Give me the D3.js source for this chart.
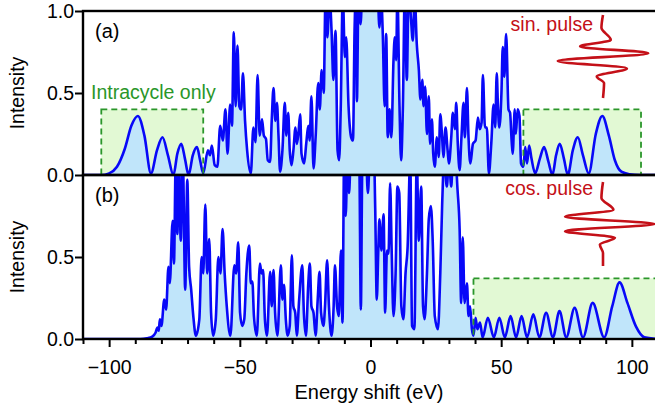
<!DOCTYPE html>
<html>
<head>
<meta charset="utf-8">
<title>Intensity vs energy shift</title>
<style>
  body { margin: 0; background: #fff; }
  text { font-family: 'Liberation Sans', Arial, sans-serif; }
</style>
<script src="https://d3js.org/d3.v7.min.js"></script>
</head>
<body>
<div id="container"></div>
<script>
// ******* Data *******
// spectra: [energy shift (eV), intensity]
const spectrumSin = [
  [-110, 0], [-103, 0], [-100, 0.01], [-97, 0.05], [-94, 0.16], [-91.5, 0.3], [-89, 0.36], [-86.5, 0.24], [-84, 0.01],
  [-81.7, 0.15], [-79.6, 0.23], [-77.5, 0.12], [-75.4, 0],
  [-73.9, 0.13], [-72.4, 0.19], [-71, 0.1], [-69.6, 0],
  [-68, 0.12], [-66.4, 0.17], [-65.2, 0.09], [-64, 0.01],
  [-62.2, 0.15], [-61.4, 0.12], [-60.7, 0.18], [-59.6, 0.06], [-58.6, 0.05],
  [-57.5, 0.30], [-56.5, 0.21], [-55.5, 0.40], [-54.7, 0.13], [-53.7, 0.43], [-53.0, 0.30], [-52.3, 0.87], [-51.6, 0.42],
  [-50.9, 0.79], [-50.2, 0.42], [-49.5, 0.40], [-48.8, 0.62], [-48.0, 0.33], [-47.2, 0.15], [-45.8, 0.01],
  [-44.8, 0.29], [-44.0, 0.20], [-43.2, 0.61], [-42.4, 0.24], [-41.5, 0.34], [-40.8, 0.24], [-40.0, 0.22], [-39.3, 0.09], [-38.4, 0.08],
  [-37.8, 0.33], [-37.1, 0.53], [-36.4, 0.33], [-35.8, 0.44], [-35.2, 0.24], [-34.6, 0.02],
  [-33.7, 0.15], [-32.8, 0.44], [-32.2, 0.24], [-31.5, 0.38], [-30.9, 0.15], [-30.2, 0.06],
  [-29.5, 0.15], [-28.7, 0.29], [-28.2, 0.19], [-27.6, 0.25], [-26.9, 0.37], [-26.4, 0.13], [-25.4, 0.07],
  [-24.6, 0.19], [-23.8, 0.30], [-23.3, 0.21], [-22.6, 0.48], [-21.8, 0.04],
  [-21.0, 0.23], [-20.0, 0.56], [-19.4, 0.40], [-18.7, 0.64], [-17.9, 0.50], [-17.2, 1.1], [-16.5, 0.84], [-15.7, 1.1],
  [-14.9, 0.88], [-14.2, 0.58], [-13.4, 0.88], [-12.6, 0.15], [-12.0, 0.09], [-11.4, 0.40], [-10.6, 1.1], [-9.8, 0.72],
  [-9.3, 0.84], [-8.4, 0.42], [-7.4, 0.23], [-6.7, 0.21], [-6.1, 0.88], [-5.6, 1.1], [-5.2, 0.45], [-4.6, 1.1], [-3.8, 0.92],
  [-3.0, 1.2], [0, 1.3], [2.6, 1.2], [3.4, 0.90], [4.0, 1.1], [4.7, 0.86], [5.4, 0.42], [6.0, 0.86], [6.6, 0.23], [7.3, 0.40],
  [8.0, 0.23], [8.8, 0.70], [9.3, 0.84], [9.8, 0.70], [10.3, 1.1], [11.1, 0.42], [11.7, 0.09], [12.4, 0.42], [13.1, 1.1],
  [13.9, 0.58], [14.6, 1.15], [15.5, 0.95], [16.2, 0.82], [16.9, 1.1], [17.7, 0.80], [18.5, 0.64], [19.1, 0.46], [19.8, 0.58],
  [20.3, 0.42], [20.9, 0.54], [21.6, 0.25], [22.3, 0.48], [22.8, 0.19], [23.5, 0.34], [24.0, 0.13], [24.6, 0.05], [25.4, 0.23],
  [26.1, 0.11], [26.7, 0.37], [27.4, 0.23], [27.9, 0.11], [28.7, 0.29], [29.5, 0.15], [30.0, 0.07], [30.9, 0.23], [31.5, 0.38],
  [32.3, 0.28], [32.8, 0.44], [33.4, 0.19], [34.1, 0.03], [34.8, 0.23], [35.6, 0.44], [36.1, 0.23], [36.9, 0.53], [37.5, 0.23],
  [38.2, 0.07], [39.2, 0.19], [40.2, 0.21], [41.1, 0.35], [41.8, 0.28], [42.5, 0.32], [43.0, 0.61], [43.8, 0.29], [44.5, 0.29],
  [45.3, 0.01], [46.2, 0.19], [47.1, 0.43], [47.7, 0.29], [48.3, 0.62], [48.8, 0.40], [49.3, 0.29], [50.1, 0.50], [50.6, 0.78],
  [51.2, 0.60], [51.9, 0.86], [52.8, 0.40], [53.4, 0.38], [54.0, 0.21], [54.4, 0.13], [55.2, 0.40], [55.6, 0.25], [56.3, 0.40],
  [57.0, 0.36], [57.6, 0.07], [58.5, 0.05], [59.2, 0.17], [59.9, 0.07], [60.7, 0.18], [61.6, 0.10], [63, 0.01],
  [64.8, 0.1], [66.4, 0.17], [68.1, 0.08], [69.6, 0], [71.0, 0.12], [72.4, 0.19], [74.0, 0.10], [75.5, 0],
  [77.4, 0.15], [79.3, 0.23], [81.3, 0.12], [83.5, 0.01], [86.2, 0.25], [88.7, 0.36], [91.2, 0.24], [93.5, 0.09], [96, 0.02],
  [99, 0.005], [103, 0], [110, 0]
];
const spectrumCos = [
  [-110, 0], [-88, 0], [-85.5, 0.005], [-83.5, 0.015], [-82.2, 0.04], [-81.5, 0.07], [-81, 0.05], [-80.6, 0.12], [-80.0, 0.08],
  [-78.9, 0.24], [-78.2, 0.18], [-77.3, 0.44], [-76.8, 0.34], [-75.7, 0.72], [-75.2, 0.46], [-74.5, 1.1], [-73.9, 0.64],
  [-73.3, 1.1], [-72.6, 0.60], [-71.8, 1.1], [-70.9, 0.30], [-70.1, 0.97], [-69.4, 0.44], [-68.6, 0.30], [-67.8, 0.14], [-66.8, 0.02],
  [-65.5, 0.12], [-64.6, 0.50], [-64.0, 0.40], [-63.2, 0.82], [-62.5, 0.40], [-61.7, 0.61], [-61.0, 0.16], [-60.2, 0.02],
  [-59.2, 0.12], [-58.2, 0.50], [-57.4, 0.40], [-56.6, 0.67], [-55.8, 0.40], [-55.0, 0.20], [-53.6, 0.02],
  [-52.1, 0.45], [-51.4, 0.40], [-50.6, 0.59], [-49.9, 0.16], [-49.1, 0.08], [-48.3, 0.12], [-47.5, 0.40], [-46.4, 0.57],
  [-45.8, 0.34], [-45.2, 0.35], [-44.6, 0.14], [-43.5, 0.02],
  [-42.3, 0.46], [-41.7, 0.40], [-41.1, 0.42], [-40.4, 0.12], [-39.6, 0.02],
  [-38.4, 0.41], [-37.8, 0.20], [-37.1, 0.42], [-36.5, 0.16], [-35.6, 0.02],
  [-34.3, 0.45], [-33.7, 0.24], [-33.1, 0.33], [-32.4, 0.12], [-31.7, 0.02],
  [-30.9, 0.08], [-30.1, 0.51], [-29.5, 0.20], [-28.8, 0.16], [-28.2, 0.02],
  [-27.3, 0.24], [-26.1, 0.45], [-25.5, 0.16], [-24.7, 0.02],
  [-23.8, 0.34], [-23.2, 0.46], [-22.6, 0.20], [-21.8, 0.16], [-21.0, 0.02],
  [-20.2, 0.24], [-19.5, 0.41], [-18.9, 0.16], [-18.0, 0.08], [-17.4, 0.20], [-16.6, 0.48], [-15.9, 0.20], [-14.9, 0.02],
  [-14.1, 0.20], [-13.6, 0.45], [-12.8, 0.20], [-12.1, 0.14], [-11.3, 0.54], [-10.7, 0.10],
  [-10.1, 1.1], [-9.5, 0.75], [-8.8, 1.1], [-8.2, 0.89], [-7.6, 1.1], [-5.5, 1.25], [-4.3, 1.1], [-3.7, 0.18], [-3.1, 1.1],
  [-1.9, 1.2], [-1.0, 0.89], [-0.3, 1.1], [1.2, 1.2], [1.8, 0.8], [2.4, 0.24], [3.0, 0.55], [3.4, 0.73], [4.2, 0.54], [5.0, 0.76],
  [5.6, 0.16], [6.3, 0.54], [6.9, 0.52], [7.5, 0.95], [8.1, 0.54], [8.8, 0.14], [9.6, 0.40], [10.3, 0.93], [11.0, 0.89],
  [11.8, 0.20], [12.6, 0.12], [13.4, 0.40], [14.2, 0.56], [15.2, 1.1], [15.9, 0.08], [16.8, 0.06], [17.7, 1.1], [18.5, 0.60],
  [19.4, 0.93], [20.1, 0.20], [20.7, 0.12], [21.6, 0.40], [22.3, 0.73], [23.1, 0.81], [23.8, 0.60], [24.6, 0.14], [25.8, 0.06],
  [26.7, 0.40], [27.4, 0.81], [28.2, 1.1], [29.2, 0.93], [30.0, 1.1], [30.9, 0.93], [31.5, 1.1], [32.5, 1.1], [33.3, 0.91],
  [34.1, 0.67], [34.7, 0.22], [35.3, 0.62], [36.0, 0.22], [36.9, 0.34], [37.5, 0.14], [38.1, 0.20], [38.8, 0.06], [39.4, 0.02],
  [40.2, 0.13], [40.9, 0.06], [41.9, 0.10], [42.9, 0.01],
  [44.9, 0.13], [47.2, 0.01], [49.3, 0.13], [51.4, 0.01], [53.6, 0.14], [55.7, 0.01], [57.8, 0.14], [59.9, 0.01],
  [62.3, 0.15], [64.6, 0.01], [67.2, 0.16], [69.8, 0.01], [72.3, 0.17], [74.9, 0.01], [78.1, 0.19], [81.3, 0.01],
  [85.0, 0.22], [89.4, 0.01], [92.5, 0.20], [95.3, 0.345], [98.3, 0.22], [101.6, 0.075], [104.8, 0.01], [110, 0]
];

// "Intracycle only" regions: [from eV, to eV, height]
const boxesSin = [[-103, -64, 0.40], [58.5, 103.5, 0.40]];
const boxesCos = [[39.4, 115, 0.37]];

// driving pulse sketches: [time (-1..1), field]
const pulseSin = [[-1, 0], [-0.69, -0.03], [-0.4, 0.15], [-0.24, -0.44], [-0.08, 0.87], [0.11, -0.87],
                  [0.29, 0.46], [0.48, -0.12], [0.64, 0.02], [1, 0]];
const pulseCos = [[-1, 0], [-0.62, -0.03], [-0.34, 0.2], [-0.17, -0.73], [0, 1.0], [0.17, -0.73],
                  [0.33, 0.23], [0.49, -0.06], [0.69, 0], [1, 0]];

const xMajorTicks = [-100, -50, 0, 50, 100];
const xMinorTicks = [-110, -90, -80, -70, -60, -40, -30, -20, -10, 10, 20, 30, 40, 60, 70, 80, 90];
const yTicksA = [0, 0.5, 1.0];
const yTicksB = [0, 0.5];

// ******* Constants *******
const width = 655, height = 411,
      plotLeft = 83, plotRight = 658,
      blue = "#0808f8", blueFill = "#c0e5fa",
      green = "#2a962a", greenFill = "#e2f9d4",
      red = "#c41018";

const panels = [
  {name: "(a)", top: 11, bottom: 175, data: spectrumSin, boxes: boxesSin, ticks: yTicksA,
   pulse: pulseSin, pulseLabel: "sin. pulse", pulseTop: 15, pulseBottom: 98, labelY: 31},
  {name: "(b)", top: 175, bottom: 339, data: spectrumCos, boxes: boxesCos, ticks: yTicksB,
   pulse: pulseCos, pulseLabel: "cos. pulse", pulseTop: 182, pulseBottom: 266, labelY: 195}
];

// ******* Scales *******
const x = d3.scaleLinear().domain([-110, 110]).range([plotLeft, plotRight]);
const field = d3.scaleLinear().domain([-1, 1]).range([551, 655]);

// ******* Create SVG *******
const svg = d3.select("#container").append("svg")
    .attr("width", width)
    .attr("height", height)
    .style("display", "block");

panels.forEach((p, i) => {
  const y = d3.scaleLinear().domain([0, 1]).range([p.bottom, p.top]);

  svg.append("clipPath").attr("id", "clip" + i)
    .append("rect")
    .attr("x", plotLeft).attr("y", p.top)
    .attr("width", plotRight - plotLeft).attr("height", p.bottom - p.top);

  const g = svg.append("g").attr("clip-path", `url(#clip${i})`);

  // green boxes behind the spectrum
  g.selectAll("rect.box").data(p.boxes).join("rect")
    .attr("class", "box")
    .attr("x", d => x(d[0])).attr("y", d => y(d[2]))
    .attr("width", d => x(d[1]) - x(d[0])).attr("height", d => y(0) - y(d[2]))
    .attr("fill", greenFill);

  const area = d3.area()
    .x(d => x(d[0])).y0(y(0)).y1(d => y(d[1]))
    .curve(d3.curveMonotoneX);

  g.append("path").datum(p.data)
    .attr("d", area)
    .attr("fill", blueFill);

  g.append("path").datum(p.data)
    .attr("d", area.lineY1())
    .attr("fill", "none")
    .attr("stroke", blue)
    .attr("stroke-width", 2.6)
    .attr("stroke-linejoin", "round");

  // dashed outline on top
  g.selectAll("rect.boxline").data(p.boxes).join("rect")
    .attr("class", "boxline")
    .attr("x", d => x(d[0])).attr("y", d => y(d[2]))
    .attr("width", d => x(d[1]) - x(d[0])).attr("height", d => y(0) - y(d[2]))
    .attr("fill", "none")
    .attr("stroke", green)
    .attr("stroke-width", 1.8)
    .attr("stroke-dasharray", "6,4");

  // pulse sketch
  const t = d3.scaleLinear().domain([-1, 1]).range([p.pulseTop, p.pulseBottom]);
  svg.append("path").datum(p.pulse)
    .attr("d", d3.line().x(d => field(d[1])).y(d => t(d[0])).curve(d3.curveMonotoneY))
    .attr("fill", "none")
    .attr("stroke", red)
    .attr("stroke-width", 2.6);

  svg.append("text")
    .attr("x", 593).attr("y", p.labelY)
    .attr("text-anchor", "end")
    .attr("font-size", 19.5)
    .attr("fill", red)
    .text(p.pulseLabel);

  // y axis
  const yAxis = svg.append("g")
    .attr("transform", `translate(${plotLeft},0)`)
    .call(d3.axisLeft(y).tickValues(p.ticks).tickSize(8).tickPadding(1).tickFormat(d3.format(".1f")));
  yAxis.select(".domain").remove();
  yAxis.selectAll("line").attr("stroke-width", 2);
  yAxis.selectAll("text").attr("font-size", 19.5).attr("font-family", "'Liberation Sans', Arial, sans-serif").attr("fill", "#000");

  // frame
  svg.append("rect")
    .attr("x", plotLeft).attr("y", p.top)
    .attr("width", plotRight - plotLeft).attr("height", p.bottom - p.top)
    .attr("fill", "none")
    .attr("stroke", "#000")
    .attr("stroke-width", 2.4);

  svg.append("text")
    .attr("x", 95).attr("y", p.top + 27)
    .attr("font-size", 20)
    .text(p.name);

  svg.append("text")
    .attr("transform", `translate(24,${(p.top + p.bottom) / 2}) rotate(-90)`)
    .attr("text-anchor", "middle")
    .attr("font-size", 19.5)
    .text("Intensity");
});

svg.append("text")
  .attr("x", 91).attr("y", 99)
  .attr("font-size", 19.5)
  .attr("fill", green)
  .text("Intracycle only");

// ******* x axis *******
const xMinor = svg.append("g")
  .attr("transform", "translate(0,339)")
  .call(d3.axisBottom(x).tickValues(xMinorTicks).tickSize(5).tickFormat(""));
xMinor.select(".domain").remove();
xMinor.selectAll("line").attr("stroke-width", 2);

const xMajor = svg.append("g")
  .attr("transform", "translate(0,339)")
  .call(d3.axisBottom(x).tickValues(xMajorTicks).tickSize(8).tickPadding(13));
xMajor.select(".domain").remove();
xMajor.selectAll("line").attr("stroke-width", 2);
xMajor.selectAll("text").attr("font-size", 19.5).attr("font-family", "'Liberation Sans', Arial, sans-serif").attr("fill", "#000");

svg.append("text")
  .attr("x", 369).attr("y", 399)
  .attr("text-anchor", "middle")
  .attr("font-size", 20)
  .text("Energy shift (eV)");
</script>
</body>
</html>
